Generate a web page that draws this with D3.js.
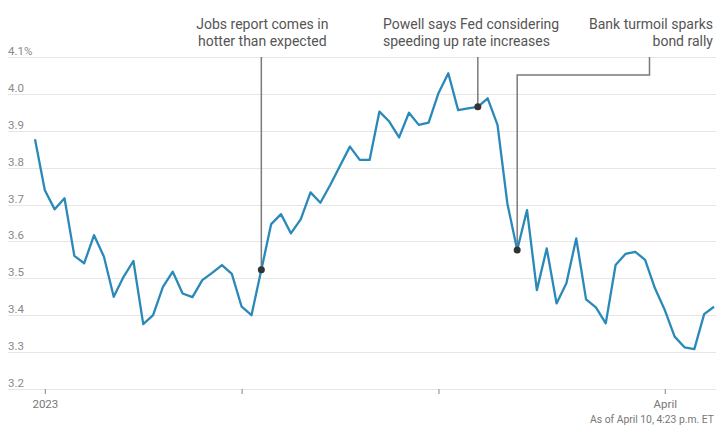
<!DOCTYPE html>
<html>
<head>
<meta charset="utf-8">
<script src="https://cdn.jsdelivr.net/npm/d3@7"></script>
<style>
  html, body { margin: 0; padding: 0; background: #fff; }
  svg { display: block; font-family: Roboto, "Noto Sans", sans-serif; }
</style>
</head>
<body>
<svg id="chart" width="716" height="429"></svg>
<script>
// Daily 10-year Treasury yield, Dec 30 2022 – Apr 10 2023 (one value per trading day)
const yields = [
  3.877, 3.739, 3.687, 3.717, 3.561, 3.541, 3.617, 3.559, 3.450, 3.504,
  3.547, 3.376, 3.400, 3.477, 3.518, 3.459, 3.449, 3.495, 3.515, 3.536,
  3.512, 3.423, 3.400, 3.523, 3.647, 3.674, 3.622, 3.660, 3.733, 3.705,
  3.753, 3.805, 3.857, 3.821, 3.821, 3.952, 3.925, 3.882, 3.949, 3.916,
  3.922, 4.002, 4.056, 3.956, 3.961, 3.965, 3.988, 3.916, 3.703, 3.577,
  3.685, 3.468, 3.581, 3.432, 3.487, 3.608, 3.443, 3.421, 3.378, 3.536,
  3.566, 3.572, 3.550, 3.473, 3.414, 3.342, 3.313, 3.308, 3.403, 3.423
];
const yTicks = [3.2, 3.3, 3.4, 3.5, 3.6, 3.7, 3.8, 3.9, 4.0, 4.1];
const yTickLabels = ["3.2", "3.3", "3.4", "3.5", "3.6", "3.7", "3.8", "3.9", "4.0", "4.1%"];
// first trading day of each month (index into yields)
const xTickIndex = [1, 21, 41, 64];
const xTickLabels = ["2023", "", "", "April"];
const annotationIndex = [23, 45, 49];
const annotationText = [
  ["Jobs report comes in", "hotter than expected"],
  ["Powell says Fed considering", "speeding up rate increases"],
  ["Bank turmoil sparks", "bond rally"]
];
const footnote = "As of April 10, 4:23 p.m. ET";

const svg = d3.select("#chart");
const x = d3.scaleLinear().domain([0, yields.length - 1]).range([35, 714]);
const y = d3.scaleLinear().domain([3.2, 4.1]).range([389, 57]);

// gridlines + y labels
const yAxis = svg.append("g").attr("class", "y-axis");
yAxis.selectAll("line").data(yTicks).join("line")
  .attr("x1", 8).attr("x2", 716)
  .attr("y1", d => Math.round(y(d)) + 0.5).attr("y2", d => Math.round(y(d)) + 0.5)
  .attr("stroke", "#e6e6e6").attr("stroke-width", 1);
yAxis.selectAll("text").data(yTicks).join("text")
  .attr("x", 8).attr("y", d => y(d) - 2)
  .attr("font-size", 11.5).attr("fill", "#8a8a8a")
  .text((d, i) => yTickLabels[i]);

// x axis ticks
const xAxis = d3.axisBottom(x).tickValues(xTickIndex).tickSize(5).tickPadding(6)
  .tickFormat((d, i) => xTickLabels[i]);
const xg = svg.append("g").attr("transform", `translate(0,${y(3.2)})`).call(xAxis);
xg.select(".domain").remove();
xg.selectAll(".tick line").attr("stroke", "#999").attr("stroke-width", 1.2);
xg.selectAll(".tick text").attr("font-size", 11.5).attr("fill", "#777")
  .attr("font-family", "Roboto, sans-serif");

// annotation leader lines (drawn under the data line)
const ann = svg.append("g");
const lead = "#7a7a7a";
// jobs
ann.append("line")
  .attr("x1", x(annotationIndex[0])).attr("x2", x(annotationIndex[0]))
  .attr("y1", y(4.1)).attr("y2", y(yields[annotationIndex[0]]))
  .attr("stroke", lead).attr("stroke-width", 1.5);
// powell
ann.append("line")
  .attr("x1", x(annotationIndex[1])).attr("x2", x(annotationIndex[1]))
  .attr("y1", y(4.1)).attr("y2", y(yields[annotationIndex[1]]))
  .attr("stroke", lead).attr("stroke-width", 1.5);
// bank turmoil (elbow)
const bx = x(annotationIndex[2]);
ann.append("path")
  .attr("d", `M649.5,${y(4.1)} V75 H${bx} V${y(yields[annotationIndex[2]])}`)
  .attr("fill", "none").attr("stroke", lead).attr("stroke-width", 1.5);

// data line
svg.append("path")
  .datum(yields)
  .attr("d", d3.line().x((d, i) => x(i)).y(d => y(d)))
  .attr("fill", "none").attr("stroke", "#2a89b8").attr("stroke-width", 2.3)
  .attr("stroke-linejoin", "round");

// dots
svg.selectAll("circle.ann").data(annotationIndex).join("circle")
  .attr("class", "ann")
  .attr("cx", d => x(d)).attr("cy", d => y(yields[d]))
  .attr("r", 3.5).attr("fill", "#333");

// annotation text
const textStyle = sel => sel.attr("font-size", 14).attr("fill", "#555");
const t0 = svg.append("text").call(textStyle).attr("text-anchor", "middle");
annotationText[0].forEach((s, i) => t0.append("tspan").attr("x", x(annotationIndex[0]) + 1).attr("y", 29 + i * 17).text(s));
const t1 = svg.append("text").call(textStyle).attr("text-anchor", "start");
annotationText[1].forEach((s, i) => t1.append("tspan").attr("x", 383).attr("y", 29 + i * 17).text(s));
const t2 = svg.append("text").call(textStyle).attr("text-anchor", "end");
annotationText[2].forEach((s, i) => t2.append("tspan").attr("x", 713).attr("y", 29 + i * 17).text(s));

// footnote
svg.append("text")
  .attr("x", 714).attr("y", 423).attr("text-anchor", "end")
  .attr("font-size", 10.5).attr("fill", "#777")
  .attr("textLength", 124).attr("lengthAdjust", "spacingAndGlyphs")
  .text(footnote);
</script>
</body>
</html>
